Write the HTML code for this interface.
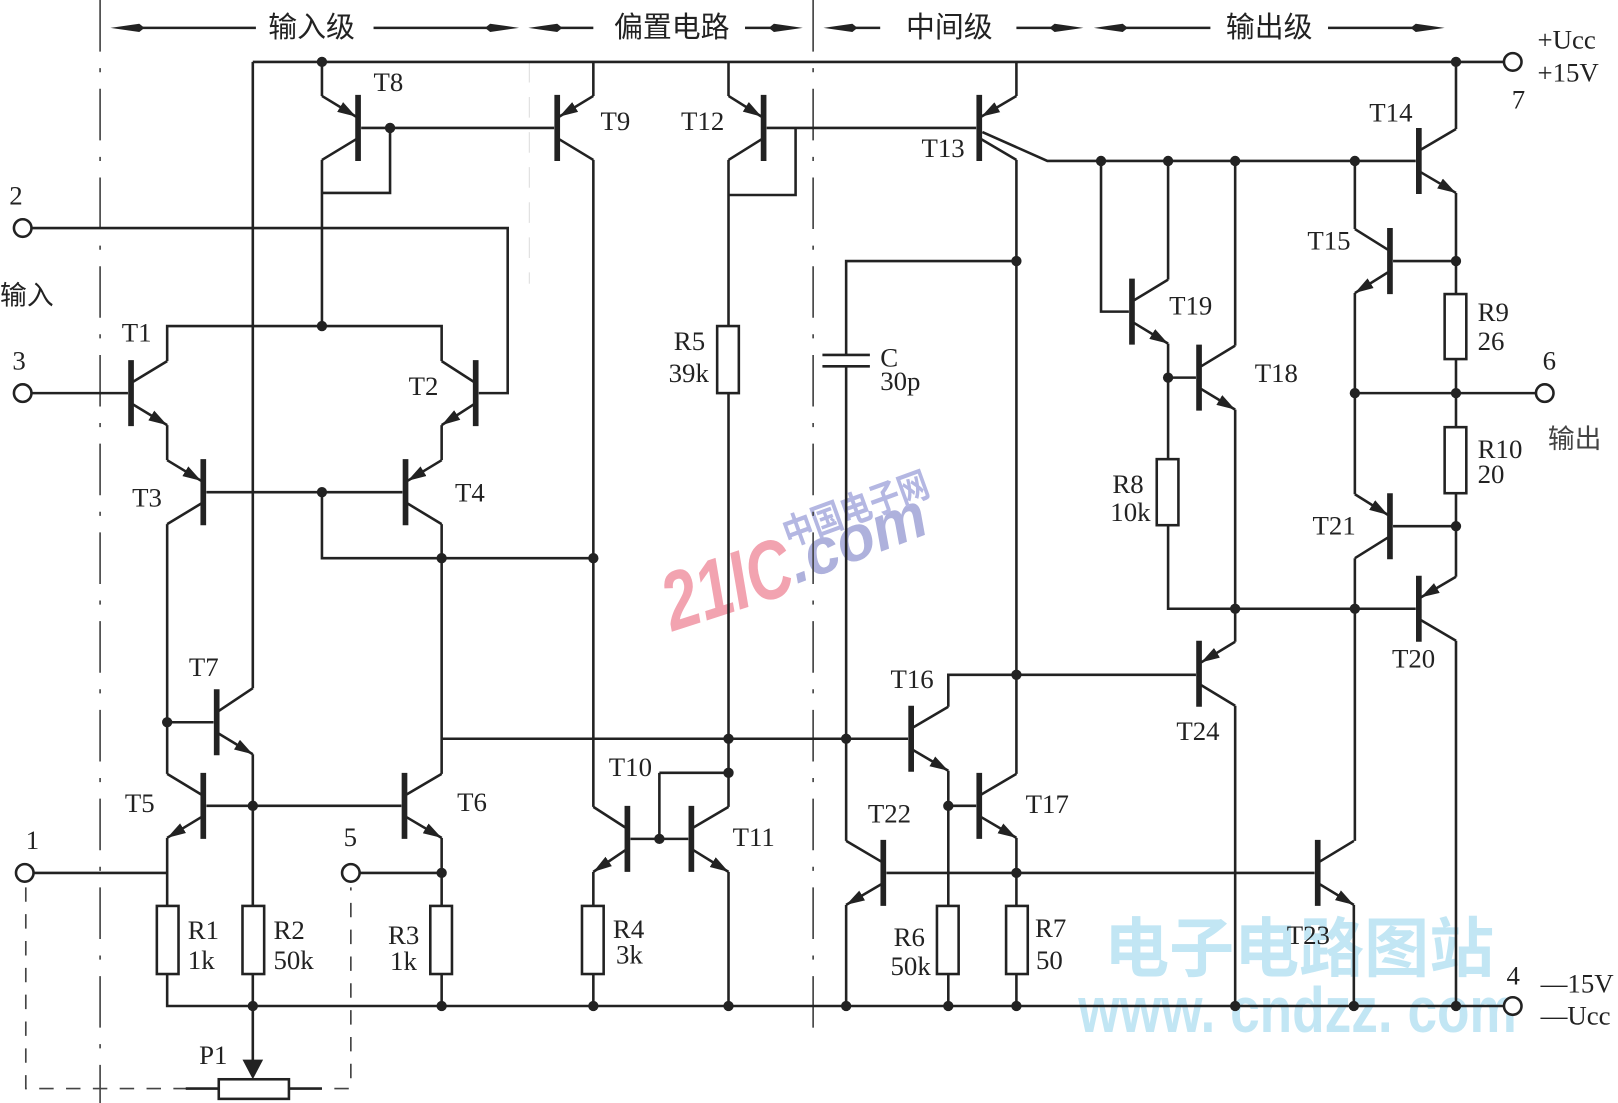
<!DOCTYPE html>
<html><head><meta charset="utf-8"><style>
html,body{margin:0;padding:0;background:#fff;}
svg{display:block;}
.t{font-family:"Liberation Serif","Noto Serif CJK SC",serif;font-size:26px;fill:#222;}
.c{font-family:"Liberation Sans","Noto Sans CJK SC",sans-serif;font-size:28px;fill:#222;}
</style></head><body>
<svg width="1618" height="1103" viewBox="0 0 1568 1069" preserveAspectRatio="none" xmlns="http://www.w3.org/2000/svg">
<defs>
<marker id="a" markerUnits="userSpaceOnUse" markerWidth="18" markerHeight="12" viewBox="0 0 18 12" refX="18" refY="6" orient="auto"><path d="M0,0.5 L18,6 L0,11.5 z" fill="#222"/></marker>
</defs>
<rect width="1568" height="1069" fill="#fff"/>

<!-- watermarks -->
<text x="0" y="0" transform="translate(652,612) rotate(-18)" font-family="Liberation Sans,sans-serif" font-weight="bold" font-style="italic" font-size="80" fill="#f2a3b0" textLength="128" lengthAdjust="spacingAndGlyphs">21IC</text>
<text x="0" y="0" transform="translate(772,566) rotate(-21)" font-family="Liberation Sans,sans-serif" font-weight="bold" font-style="italic" font-size="62" fill="#aeb1dc" textLength="140" lengthAdjust="spacingAndGlyphs">.com</text>
<text x="0" y="0" transform="translate(764,530) rotate(-20)" font-family="Noto Sans CJK SC,sans-serif" font-weight="bold" font-size="35" fill="#b4b7e2" textLength="148" lengthAdjust="spacingAndGlyphs">中国电子网</text>
<text x="1070" y="941" font-family="Noto Sans CJK SC,sans-serif" font-weight="bold" font-size="63" fill="#c2e6f4" textLength="378" lengthAdjust="spacingAndGlyphs">电子电路图站</text>
<text x="1045" y="1000" font-family="Liberation Sans,sans-serif" font-weight="bold" font-size="62" fill="#c2e6f4" textLength="425" lengthAdjust="spacingAndGlyphs">www. cndzz. com</text>

<!-- dashed separators -->
<g fill="none" stroke="#444" stroke-width="1.6">
<path d="M97,0 V1069" stroke-dasharray="50 16 4 16"/>
<path d="M788,0 V1010" stroke-dasharray="50 16 4 16"/>
<path d="M25,860 V1055 H340 V860" stroke-dasharray="14 12"/>
</g>
<path d="M513,60 V275" stroke="#e2e2e2" stroke-width="1.2" stroke-dasharray="20 14" fill="none"/>

<!-- header -->
<g stroke="#222" stroke-width="2.5" fill="none">
<path d="M135,27 H248 M362,27 H475 M540,27 H575 M722,27 H750 M826,27 H853 M985,27 H1022 M1088,27 H1173 M1287,27 H1372"/>
</g>
<g fill="#222">
<polygon points="107,27 135,23 140,27 135,31"/>
<polygon points="503,27 475,23 470,27 475,31"/>
<polygon points="512,27 540,23 545,27 540,31"/>
<polygon points="778,27 750,23 745,27 750,31"/>
<polygon points="798,27 826,23 831,27 826,31"/>
<polygon points="1050,27 1022,23 1017,27 1022,31"/>
<polygon points="1060,27 1088,23 1093,27 1088,31"/>
<polygon points="1400,27 1372,23 1367,27 1372,31"/>
</g>
<text class="c" x="260" y="36">输入级</text>
<text class="c" x="595" y="36">偏置电路</text>
<text class="c" x="878" y="36">中间级</text>
<text class="c" x="1188" y="36">输出级</text>

<!-- wires -->
<path fill="none" stroke="#222" stroke-width="2.5" stroke-linejoin="miter" d="
M245,60 H1457 M245,60 V667
M312,60 V93 M575,60 V93 M706,60 V93 M985,60 V93 M1411,60 V125
M350,124 H537
M378,124 V187 H312
M312,155 V316
M162,350 V316 H428 V350
M31,221 H492 V381 H464
M31,381 H124
M162,412 V446 M428,412 V446
M200,477 H390
M312,477 V541 H575
M162,508 V750 M162,700 H207
M428,508 V750 M428,716 H880
M200,781 H389
M245,731 V878
M162,812 V878 M33,846 H162
M428,812 V878 M349,846 H428
M162,944 V975 H1457
M245,944 V1030
M428,944 V975
M575,155 V782
M706,155 V316 M706,381 V782
M639,749 H706 M639,749 V813
M611,813 H667
M575,845 V878 M575,944 V975
M706,845 V975
M743,124 H946
M771,124 V189 H706
M985,155 V750
M952,128 L1015,156 H1372
M985,253 H820 V344 M820,355 V815
M919,685 V654 H1159
M919,747 V878 M919,944 V975
M919,781 H946
M985,812 V878 M985,944 V975
M859,846 H1274
M820,877 V975
M1067,156 V302 H1094
M1132,271 V156
M1132,333 V445 M1132,366 H1159
M1132,509 V590 H1372
M1197,335 V156
M1197,397 V622
M1197,684 V975
M1313,222 V156
M1313,284 V479
M1313,541 V815
M1312,877 V975
M1411,187 V285 M1350,253 H1411
M1411,348 V414 M1313,381 H1488
M1411,478 V559 M1350,510 H1411
M1411,621 V975
M180,1055 H212 M280,1055 H312
M797,344 H843 M797,355 H843
"/>

<!-- transistor bars -->
<path fill="none" stroke="#222" stroke-width="5.5" d="
M127,349 V413 M461,349 V413 M197,445 V509 M393,445 V509
M197,749 V813 M392,749 V813 M210,668 V732
M347,92 V156 M540,92 V156 M740,92 V156 M949,92 V156
M608,781 V845 M670,781 V845
M1375,124 V188 M1347,221 V285 M883,684 V748 M949,749 V813
M1162,334 V398 M1097,270 V334 M1375,558 V622 M1347,478 V542
M856,814 V878 M1277,814 V878 M1162,621 V685
"/>
<!-- collectors -->
<path fill="none" stroke="#222" stroke-width="2.5" d="
M129,370 L162,350 M459,370 L428,350 M195,488 L162,508 M395,488 L428,508
M195,770 L162,750 M394,770 L428,750 M212,689 L245,667
M345,135 L312,155 M542,135 L575,155 M738,135 L706,155 M951,135 L985,155
M606,802 L575,782 M672,802 L706,782
M1377,145 L1411,125 M1345,242 L1313,222 M885,705 L919,685 M951,770 L985,750
M1164,355 L1197,335 M1099,291 L1132,271 M1377,601 L1411,621 M1345,521 L1313,541
M854,835 L820,815 M1279,835 L1312,815 M1164,664 L1197,684
"/>
<!-- emitters with arrows -->
<g fill="none" stroke="#222" stroke-width="2.5" marker-end="url(#a)">
<path d="M129,392 L162,412"/>
<path d="M459,392 L428,412"/>
<path d="M162,446 L195,466"/>
<path d="M428,446 L395,466"/>
<path d="M195,792 L162,812"/>
<path d="M394,792 L428,812"/>
<path d="M212,711 L245,731"/>
<path d="M312,93 L345,113"/>
<path d="M575,93 L542,113"/>
<path d="M706,93 L738,113"/>
<path d="M985,93 L951,113"/>
<path d="M606,824 L575,845"/>
<path d="M672,824 L706,845"/>
<path d="M1377,167 L1411,187"/>
<path d="M1345,264 L1313,284"/>
<path d="M885,727 L919,747"/>
<path d="M951,792 L985,812"/>
<path d="M1164,377 L1197,397"/>
<path d="M1099,313 L1132,333"/>
<path d="M1411,559 L1377,579"/>
<path d="M1313,479 L1345,499"/>
<path d="M854,857 L820,877"/>
<path d="M1279,857 L1312,877"/>
<path d="M1197,622 L1164,642"/>
</g>

<!-- resistors -->
<g fill="#fff" stroke="#222" stroke-width="2.5">
<rect x="152" y="878" width="21" height="66"/>
<rect x="235" y="878" width="21" height="66"/>
<rect x="417" y="878" width="21" height="66"/>
<rect x="564" y="878" width="21" height="66"/>
<rect x="695" y="316" width="21" height="65"/>
<rect x="908" y="878" width="21" height="66"/>
<rect x="975" y="878" width="21" height="66"/>
<rect x="1121" y="445" width="21" height="64"/>
<rect x="1400" y="285" width="21" height="63"/>
<rect x="1400" y="414" width="21" height="64"/>
<rect x="212" y="1046" width="68" height="19"/>
</g>
<polygon points="235,1027 255,1027 245,1046" fill="#222"/>

<!-- terminals -->
<g fill="#fff" stroke="#222" stroke-width="2.5">
<circle cx="22" cy="221" r="8.5"/>
<circle cx="22" cy="381" r="8.5"/>
<circle cx="24" cy="846" r="8.5"/>
<circle cx="340" cy="846" r="8.5"/>
<circle cx="1466" cy="60" r="8.5"/>
<circle cx="1497" cy="381" r="8.5"/>
<circle cx="1466" cy="975" r="8.5"/>
</g>

<!-- junction dots -->
<g fill="#222">
<circle cx="312" cy="60" r="5"/><circle cx="1411" cy="60" r="5"/>
<circle cx="378" cy="124" r="5"/><circle cx="312" cy="316" r="5"/>
<circle cx="312" cy="477" r="5"/><circle cx="428" cy="541" r="5"/><circle cx="575" cy="541" r="5"/>
<circle cx="162" cy="700" r="5"/><circle cx="245" cy="781" r="5"/><circle cx="428" cy="846" r="5"/>
<circle cx="245" cy="975" r="5"/><circle cx="428" cy="975" r="5"/><circle cx="575" cy="975" r="5"/>
<circle cx="706" cy="975" r="5"/><circle cx="820" cy="975" r="5"/><circle cx="919" cy="975" r="5"/>
<circle cx="985" cy="975" r="5"/><circle cx="1197" cy="975" r="5"/><circle cx="1312" cy="975" r="5"/>
<circle cx="1411" cy="975" r="5"/>
<circle cx="706" cy="716" r="5"/><circle cx="820" cy="716" r="5"/><circle cx="706" cy="749" r="5"/>
<circle cx="639" cy="813" r="5"/><circle cx="919" cy="781" r="5"/><circle cx="985" cy="846" r="5"/>
<circle cx="985" cy="253" r="5"/><circle cx="985" cy="654" r="5"/>
<circle cx="1067" cy="156" r="5"/><circle cx="1132" cy="156" r="5"/><circle cx="1197" cy="156" r="5"/>
<circle cx="1313" cy="156" r="5"/><circle cx="1411" cy="253" r="5"/><circle cx="1132" cy="366" r="5"/>
<circle cx="1313" cy="381" r="5"/><circle cx="1411" cy="381" r="5"/><circle cx="1411" cy="510" r="5"/>
<circle cx="1197" cy="590" r="5"/><circle cx="1313" cy="590" r="5"/>
</g>

<!-- labels -->
<g class="t">
<text x="362" y="88">T8</text>
<text x="582" y="126">T9</text>
<text x="660" y="126">T12</text>
<text x="893" y="152">T13</text>
<text x="1327" y="118">T14</text>
<text x="1267" y="242">T15</text>
<text x="1133" y="305">T19</text>
<text x="1216" y="370">T18</text>
<text x="118" y="331">T1</text>
<text x="396" y="383">T2</text>
<text x="128" y="491">T3</text>
<text x="441" y="486">T4</text>
<text x="183" y="655">T7</text>
<text x="121" y="787">T5</text>
<text x="443" y="786">T6</text>
<text x="590" y="752">T10</text>
<text x="710" y="820">T11</text>
<text x="863" y="667">T16</text>
<text x="841" y="797">T22</text>
<text x="994" y="788">T17</text>
<text x="1272" y="518">T21</text>
<text x="1349" y="647">T20</text>
<text x="1140" y="717">T24</text>
<text x="1247" y="915">T23</text>
<text x="182" y="910">R1</text><text x="182" y="939">1k</text>
<text x="265" y="910">R2</text><text x="265" y="939">50k</text>
<text x="376" y="915">R3</text><text x="378" y="940">1k</text>
<text x="594" y="909">R4</text><text x="597" y="934">3k</text>
<text x="653" y="339">R5</text><text x="648" y="370">39k</text>
<text x="866" y="917">R6</text><text x="863" y="945">50k</text>
<text x="1003" y="908">R7</text><text x="1004" y="939">50</text>
<text x="1078" y="478">R8</text><text x="1076" y="505">10k</text>
<text x="1432" y="311">R9</text><text x="1432" y="339">26</text>
<text x="1432" y="444">R10</text><text x="1432" y="468">20</text>
<text x="853" y="355">C</text><text x="853" y="378">30p</text>
<text x="193" y="1031">P1</text>
<text x="9" y="198">2</text>
<text x="12" y="358">3</text>
<text x="25" y="823">1</text>
<text x="333" y="820">5</text>
<text x="1495" y="358">6</text>
<text x="1465" y="105">7</text>
<text x="1460" y="954">4</text>
<text x="1490" y="47">+Ucc</text>
<text x="1490" y="79">+15V</text>
<text x="1493" y="962">—15V</text>
<text x="1493" y="993">—Ucc</text>
</g>
<text class="c" x="0" y="295" style="font-size:26px">输入</text>
<text class="c" x="1500" y="434" style="font-size:26px;fill:#444">输出</text>
</svg>
</body></html>
